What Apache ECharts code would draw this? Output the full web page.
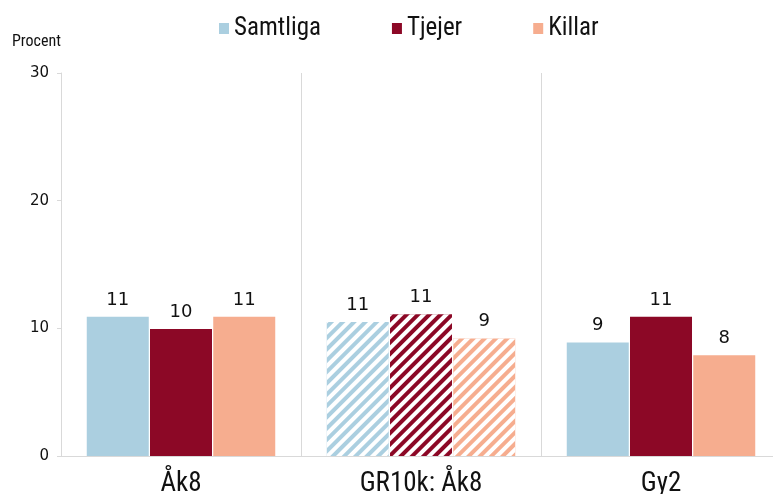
<!DOCTYPE html>
<html>
<head>
<meta charset="utf-8">
<script src="https://cdn.jsdelivr.net/npm/echarts@6/dist/echarts.min.js"></script>
<style>
  html, body { margin: 0; padding: 0; background: #fff; }
  #chart { width: 773px; height: 494px; }
</style>
</head>
<body>
<div id="chart"></div>
<script>
// data
const categories = ['Åk8', 'GR10k: Åk8', 'Gy2']
const samtliga = [10.9, 10.5, 8.9]
const tjejer = [9.95, 11.1, 10.9]
const killar = [10.9, 9.2, 7.9]
const hatched = [false, true, false] // middle group is drawn striped
const yTicks = [0, 10, 20, 30]

const colors = { Samtliga: '#abcfe0', Tjejer: '#8c0826', Killar: '#f6ad8f' }
const narrow = '"Roboto Condensed", "Liberation Sans Narrow", "Liberation Sans", sans-serif'

const stripes = {
  symbol: 'rect',
  color: 'rgba(255,255,255,1)',
  dashArrayX: [1, 0],
  dashArrayY: [4, 4],
  rotation: -Math.PI / 4,
  symbolSize: 1
}

function makeSeries(name, values) {
  return {
    name: name,
    type: 'bar',
    barWidth: 62,
    barGap: '2%',
    itemStyle: { color: colors[name] },
    label: {
      show: true,
      position: 'top',
      distance: 8,
      color: '#111',
      fontSize: 18,
      fontFamily: 'DejaVu Sans',
      formatter: p => Math.round(p.value)
    },
    data: values.map((v, i) => hatched[i]
      ? { value: v, itemStyle: { decal: stripes } }
      : v)
  }
}

const chart = echarts.init(document.getElementById('chart'))
chart.setOption({
  animation: false,
  textStyle: { fontFamily: 'DejaVu Sans' },
  // plot runs a little past the right edge, like the original
  grid: { left: 61, width: 720, top: 73, bottom: 38, outerBoundsMode: 'none' },
  legend: {
    top: 11,
    left: 214,
    itemWidth: 10,
    itemHeight: 11,
    itemGap: 71,
    icon: 'rect',
    textStyle: { fontSize: 25, fontFamily: narrow, color: '#111' },
    data: ['Samtliga', 'Tjejer', 'Killar']
  },
  graphic: [{
    type: 'text',
    left: 12,
    top: 34,
    style: { text: 'Procent', fontSize: 16, fontFamily: narrow, fill: '#111' }
  }],
  xAxis: {
    type: 'category',
    data: categories,
    axisLine: { lineStyle: { color: '#d9d9d9' } },
    axisTick: { show: false },
    splitLine: { show: true, lineStyle: { color: '#d9d9d9' } },
    axisLabel: { fontSize: 27, fontFamily: narrow, color: '#111', margin: 15 }
  },
  yAxis: {
    type: 'value',
    min: yTicks[0],
    max: yTicks[yTicks.length - 1],
    interval: 10,
    axisLine: { show: true, lineStyle: { color: '#d9d9d9' } },
    axisTick: { show: true, length: 4, lineStyle: { color: '#d9d9d9' } },
    splitLine: { show: false },
    axisLabel: { fontSize: 15, color: '#111', margin: 12 }
  },
  series: [
    makeSeries('Samtliga', samtliga),
    makeSeries('Tjejer', tjejer),
    makeSeries('Killar', killar)
  ]
})
</script>
</body>
</html>
